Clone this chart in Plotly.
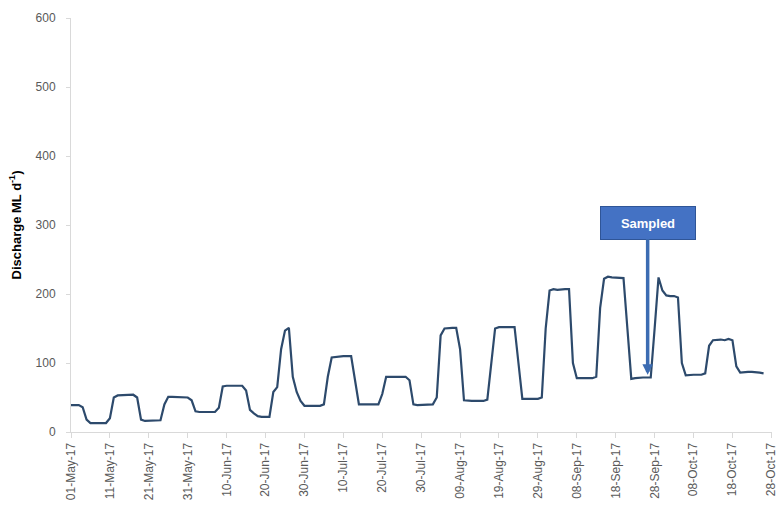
import pandas as pd
import plotly.graph_objects as go

start_date = "2017-05-01"
discharge = [
    39, 39, 39, 36, 18, 13, 13, 13, 13, 13,
    20, 50, 53, 53, 53, 54, 54, 50, 18, 16,
    16, 16, 16, 17, 40, 51, 51, 51, 51, 51,
    50, 46, 30, 29, 29, 29, 29, 29, 35, 66,
    67, 67, 67, 67, 67, 60, 32, 27, 23, 22,
    22, 22, 58, 65, 120, 147, 151, 80, 58, 45,
    38, 38, 38, 38, 38, 40, 80, 108, 109, 110,
    110, 110, 110, 75, 40, 40, 40, 40, 40, 40,
    55, 80, 80, 80, 80, 80, 80, 75, 40, 39,
    39, 39, 39, 40, 50, 140, 150, 151, 151, 151,
    120, 46, 45, 45, 45, 45, 45, 47, 100, 150,
    152, 152, 152, 152, 152, 100, 48, 48, 48, 48,
    48, 50, 150, 205, 207, 206, 207, 207, 207, 100,
    78, 78, 78, 78, 78, 80, 180, 222, 225, 224,
    224, 224, 223, 150, 77, 78, 79, 79, 79, 79,
    150, 224, 205, 198, 197, 197, 195, 100, 82, 83,
    83, 83, 83, 85, 125, 133, 134, 134, 133, 135,
    133, 95, 86, 87, 87, 87, 87, 86, 85,
]
dates = pd.date_range(start_date, periods=len(discharge), freq="D")

x_range = ["2017-05-01", "2017-10-28 04:00"]
y_ticks = [0, 100, 200, 300, 400, 500, 600]
y_title = "Discharge ML d<sup>-1</sup>)"
annot_text = "Sampled"
annot_date = "2017-09-26 05:00"
annot_value = 83

fig = go.Figure()
fig.add_trace(go.Scatter(
    x=dates, y=discharge, mode="lines",
    line=dict(color="#2d4a6c", width=2.2),
    hoverinfo="skip", showlegend=False,
))

fig.add_annotation(
    x=annot_date, y=annot_value, xref="x", yref="y",
    text="<b>" + annot_text + "</b>",
    showarrow=True, ax=0, ay=-152,
    arrowcolor="#3c6cb2", arrowwidth=3.5, arrowhead=2, arrowsize=0.6,
    bgcolor="#4472c4", bordercolor="#2f5597", borderwidth=1,
    width=92, height=30,
    font=dict(color="white", size=13, family="Liberation Sans"),
)

fig.update_layout(
    width=779, height=509,
    margin=dict(l=71, r=7, t=18, b=77),
    paper_bgcolor="white", plot_bgcolor="white",
    font=dict(family="Liberation Sans", color="#595959", size=12),
    xaxis=dict(
        type="date", range=x_range, automargin=False,
        tick0="2017-05-01", dtick=864000000,
        tickformat="%d-%b-%y", tickangle=-90,
        ticklabeloverflow="allow",
        showgrid=False, zeroline=False,
        showline=True, linecolor="#d9d9d9", linewidth=1,
        ticks="outside", ticklen=5, tickcolor="#d9d9d9",
        tickfont=dict(size=12, color="#595959"),
    ),
    yaxis=dict(
        range=[0, 600], tickvals=y_ticks, automargin=False,
        showgrid=False, zeroline=False,
        showline=True, linecolor="#d9d9d9", linewidth=1,
        ticks="outside", ticklen=4, tickcolor="#d9d9d9",
        ticklabelstandoff=8,
        tickfont=dict(size=12, color="#595959"),
        title=dict(text="<b>" + y_title + "</b>", standoff=11,
                   font=dict(size=13, color="black")),
    ),
)

fig.write_html(
    "out.html",
    config={"displayModeBar": False, "staticPlot": True},
    post_script="document.body.style.margin='0';document.body.style.overflow='hidden';",
)
